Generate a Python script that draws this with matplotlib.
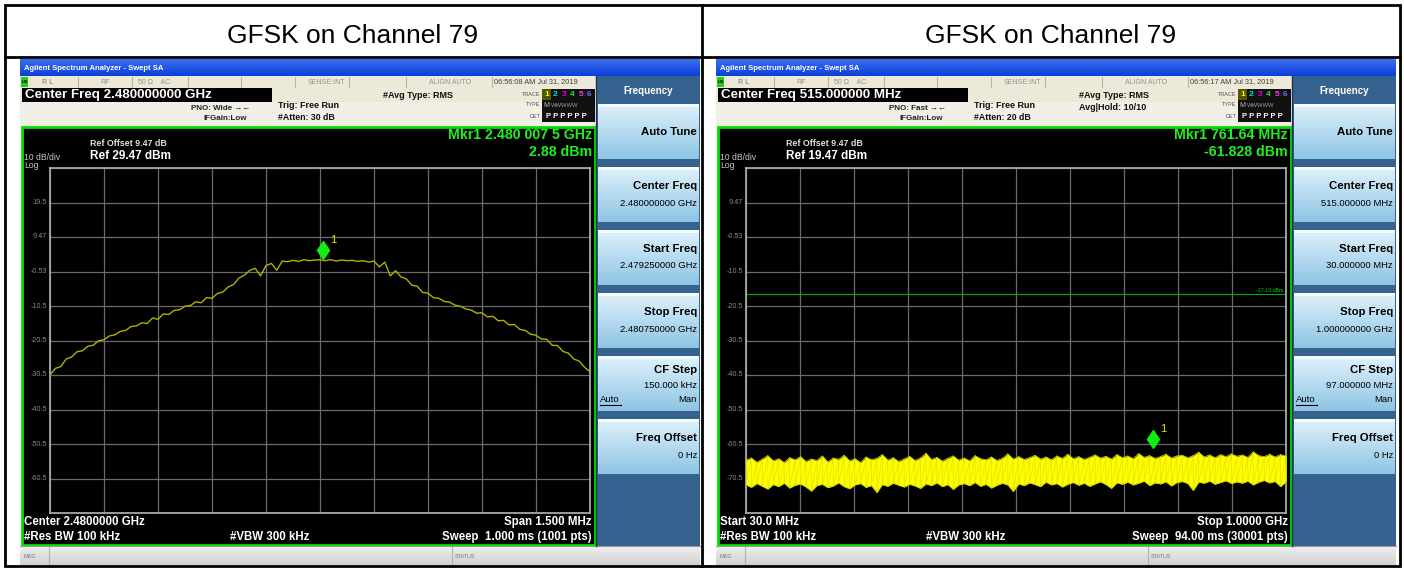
import numpy as np
import matplotlib
matplotlib.use("Agg")
import matplotlib.pyplot as plt
from matplotlib.patches import Rectangle
import matplotlib.transforms as mtransforms

plt.rcParams['font.family'] = ['Liberation Sans', 'DejaVu Sans']

W, H = 1404, 570

# ---------------- data ----------------
panel_titles = ["GFSK on Channel 79", "GFSK on Channel 79"]

# Left: in-band sweep, 2.479250 - 2.480750 GHz, readings every 15 kHz (offset from centre)
left_center_ghz = 2.48
left_span_khz = 1500
left_step_khz = 15
left_levels_dbm = [
    -30.5, -28.6, -28.1, -25.9, -25.3, -23.8, -23.5, -22.2, -21.9, -20.6,
    -20.3, -19.2, -18.9, -17.9, -17.6, -16.5, -16.3, -15.4, -15.6, -14.0,
    -14.4, -12.8, -13.0, -11.8, -11.6, -10.6, -10.4, -9.3, -9.6, -8.1,
    -8.3, -6.9, -6.5, -5.0, -4.3, -2.4, -1.6, -0.2, 0.4, -1.8,
    1.2, 1.8, -0.2, 2.5, 2.3, 2.7, 2.4, 2.9, 2.6, 2.8,
    2.88,
    2.6, 2.9, 2.5, 2.8, 2.6, 2.7, 2.4, 2.6, 2.2, 2.5,
    0.8, 2.2, -1.8, -0.3, -2.1, -2.7, -4.5, -4.8, -6.6, -6.8,
    -8.1, -8.3, -9.2, -9.4, -10.3, -10.6, -11.4, -11.7, -12.6, -12.5,
    -13.7, -13.5, -14.8, -14.7, -16.0, -15.9, -17.3, -17.6, -18.7, -19.0,
    -20.1, -20.2, -21.9, -22.0, -23.7, -24.2, -25.9, -26.5, -28.3, -29.6]
left_ref_dbm = 29.47
left_ytick_labels = ["19.5", "9.47", "-0.53", "-10.5", "-20.5", "-30.5", "-40.5", "-50.5", "-60.5"]
left_marker_khz, left_marker_dbm = 7.5, 2.88

# Right: spurious sweep 30 MHz - 1 GHz, noise band envelope (upper / lower), dBm
right_start_mhz, right_stop_mhz = 30.0, 1000.0
right_upper_dbm = [
    -65.2, -64.6, -65.8, -64.9, -63.9, -65.4, -64.8, -65.9, -64.5, -65.1,
    -64.2, -65.6, -64.9, -65.3, -64.0, -65.7, -64.6, -65.0, -63.8, -65.4,
    -64.8, -65.9, -64.3, -65.1, -64.7, -63.6, -65.2, -64.5, -65.6, -64.9,
    -64.1, -65.3, -64.6, -63.2, -65.0, -64.4, -65.5, -64.7, -64.0, -65.2,
    -64.6, -65.4, -63.9, -64.8, -65.1, -64.3, -65.3, -64.7, -63.4, -64.9,
    -64.2, -65.0, -64.5, -63.8, -64.9, -64.3, -65.1, -64.0, -64.7, -63.5,
    -64.8, -64.2, -65.0, -64.4, -63.7, -64.6, -64.1, -64.9, -63.6, -64.5,
    -64.0, -64.8, -63.3, -64.4, -63.9, -64.7, -64.2, -63.5, -64.6, -64.0,
    -63.8, -64.5, -63.9, -62.9, -64.3, -63.7, -64.5, -63.6, -64.2, -63.4,
    -64.1, -63.7, -64.4, -62.8, -63.9, -64.2, -63.5, -64.3, -63.6, -64.0]
right_lower_dbm = [
    -72.4, -73.1, -72.0, -72.8, -73.6, -72.3, -72.9, -71.9, -73.3, -72.5,
    -72.1, -73.0, -74.2, -72.6, -72.2, -73.2, -72.7, -71.8, -72.9, -73.5,
    -72.4, -72.0, -73.1, -72.6, -74.6, -72.3, -72.8, -71.9, -72.5, -73.0,
    -72.2, -72.7, -73.4, -72.1, -72.6, -71.8, -72.9, -72.3, -73.7, -72.4,
    -72.0, -72.6, -71.7, -72.8, -72.2, -73.3, -72.5, -71.9, -72.4, -74.3,
    -72.1, -72.6, -71.8, -72.3, -72.9, -71.6, -72.4, -72.0, -73.0, -72.2,
    -71.7, -72.5, -71.9, -72.8, -72.1, -71.5, -72.3, -73.4, -71.8, -72.2,
    -71.6, -72.4, -71.9, -71.3, -72.6, -71.8, -72.1, -71.5, -72.7, -71.7,
    -71.4, -72.0, -74.0, -71.6, -71.9, -71.3, -72.2, -71.7, -71.2, -72.0,
    -71.5, -71.9, -71.3, -72.4, -71.6, -71.1, -71.8, -71.4, -72.9, -71.5]
right_ref_dbm = 19.47
right_ytick_labels = ["9.47", "-0.53", "-10.5", "-20.5", "-30.5", "-40.5", "-50.5", "-60.5", "-70.5"]
right_marker_mhz, right_marker_dbm = 761.64, -61.828
right_limit_dbm = -17.13

screens = [
    dict(dx=0, time="06:56:08 AM Jul 31, 2019", cf="Center Freq 2.480000000 GHz",
         pno="PNO: Wide", atten="#Atten: 30 dB", avg=["#Avg Type: RMS"],
         mkr=["Mkr1 2.480 007 5 GHz", "2.88 dBm"], ref="Ref 29.47 dBm",
         bl1="Center 2.4800000 GHz", br1="Span 1.500 MHz",
         br2="Sweep  1.000 ms (1001 pts)",
         keys=[("Auto Tune", None), ("Center Freq", "2.480000000 GHz"),
               ("Start Freq", "2.479250000 GHz"), ("Stop Freq", "2.480750000 GHz"),
               ("CF Step", "150.000 kHz"), ("Freq Offset", "0 Hz")]),
    dict(dx=696, time="06:56:17 AM Jul 31, 2019", cf="Center Freq 515.000000 MHz",
         pno="PNO: Fast", atten="#Atten: 20 dB", avg=["#Avg Type: RMS", "Avg|Hold: 10/10"],
         mkr=["Mkr1 761.64 MHz", "-61.828 dBm"], ref="Ref 19.47 dBm",
         bl1="Start 30.0 MHz", br1="Stop 1.0000 GHz",
         br2="Sweep  94.00 ms (30001 pts)",
         keys=[("Auto Tune", None), ("Center Freq", "515.000000 MHz"),
               ("Start Freq", "30.000000 MHz"), ("Stop Freq", "1.000000000 GHz"),
               ("CF Step", "97.000000 MHz"), ("Freq Offset", "0 Hz")]),
]

# ---------------- figure ----------------
fig = plt.figure(figsize=(W / 100, H / 100), dpi=100)
fig.patch.set_facecolor("white")
bg = fig.add_axes([0, 0, 1, 1])
bg.set_xlim(0, W)
bg.set_ylim(H, 0)
bg.axis("off")


def rect(x0, y0, x1, y1, fc, ec="none", lw=0, z=1):
    bg.add_patch(Rectangle((x0, y0), x1 - x0, y1 - y0, facecolor=fc, edgecolor=ec, lw=lw, zorder=z))


def grad(x0, y0, x1, y1, ctop, cbot, z=1):
    c0 = np.array(matplotlib.colors.to_rgb(ctop))
    c1 = np.array(matplotlib.colors.to_rgb(cbot))
    t = np.linspace(0, 1, 32)[:, None, None]
    img = c0[None, None, :] * (1 - t) + c1[None, None, :] * t
    bg.imshow(img, extent=(x0, x1, y1, y0), origin="upper", aspect="auto", zorder=z, interpolation="bilinear")


def txt(x, y, s, size, color="black", weight="normal", ha="left", va="center", z=5, **kw):
    bg.text(x, y, s, fontsize=size, color=color, fontweight=weight, ha=ha, va=va, zorder=z, **kw)


def px_axes(x0, y0, x1, y1):
    return fig.add_axes([x0 / W, 1 - y1 / H, (x1 - x0) / W, (y1 - y0) / H])


# table
bg.add_patch(Rectangle((5, 5), 1395, 561, fill=False, edgecolor="black", lw=2, zorder=10))
bg.plot([5, 1400], [57, 57], color="black", lw=2, zorder=10)
bg.plot([702, 702], [5, 566], color="black", lw=2, zorder=10)
for i, t in enumerate(panel_titles):
    txt(353 + i * 698, 36, t, 19, ha="center")

data_axes = []
for s in screens:
    d = s["dx"]
    # title bar
    grad(20 + d, 59, 700 + d, 76, "#3a6ff2", "#0c3fd6")
    txt(24 + d, 68, "Agilent Spectrum Analyzer - Swept SA", 5.5, color="white", weight="bold")
    # status row
    rect(20 + d, 76, 597 + d, 88, "#ece9d8")
    rect(21 + d, 77, 28 + d, 87, "#22cc22", z=2)
    txt(22 + d, 82, "LXI", 3, color="black", weight="bold")
    for sx in [78, 132, 188, 241, 295, 349, 406, 492]:
        bg.plot([sx + d, sx + d], [77, 87], color="#b8b4a0", lw=0.8, zorder=2)
    txt(42 + d, 82, "R L", 5, color="#707070")
    txt(100 + d, 82, "RF", 5, color="#909090")
    txt(138 + d, 82, "50 \u03a9    AC", 5, color="#909090")
    txt(326 + d, 82, "SENSE:INT", 5, color="#909090", ha="center")
    txt(450 + d, 82, "ALIGN AUTO", 5, color="#909090", ha="center")
    txt(494 + d, 82, s["time"], 5.3, color="#404040")
    # centre freq row + settings strip
    rect(20 + d, 88, 597 + d, 127, "#ece9d8")
    rect(21 + d, 102, 597 + d, 126, "#f2f0e6")
    rect(22 + d, 88, 272 + d, 102, "black", z=2)
    txt(25 + d, 95, s["cf"], 9.6, color="white", weight="bold", z=3)
    txt(250 + d, 109, s["pno"] + " \u2192\u2190", 5.8, color="#222222", weight="bold", ha="right")
    txt(247 + d, 119, "IFGain:Low", 5.8, color="#222222", weight="bold", ha="right")
    txt(278 + d, 106, "Trig: Free Run", 6.5, color="#111111", weight="bold")
    txt(278 + d, 118, s["atten"], 6.3, color="#111111", weight="bold")
    for k, a in enumerate(s["avg"]):
        txt(383 + d, 95 + 12 * k, a, 6.5, color="#111111", weight="bold")
    # trace block
    txt(540 + d, 94, "TRACE", 4, color="#555555", ha="right")
    txt(540 + d, 105, "TYPE", 4, color="#555555", ha="right")
    txt(540 + d, 116, "DET", 4, color="#555555", ha="right")
    rect(542 + d, 89, 595 + d, 122, "#101010", z=2)
    rect(542 + d, 89, 551 + d, 100, "#555500", z=2)
    for j, (n, c) in enumerate(zip("123456", ["#ffff00", "#00e0e0", "#e000e0", "#30e030", "#ff40ff", "#6070ff"])):
        txt(546.5 + d + j * 8.6, 94.5, n, 6, color=c, weight="bold", ha="center", z=3)
    txt(543 + d, 105.5, "M", 5, color="#bbbbbb", z=3)
    txt(551 + d, 105.5, "WWWWW", 4.2, color="#9a9a9a", z=3)
    txt(546.5 + d, 116.5, "P P P P P P", 5.5, color="white", weight="bold", ha="left", z=3)

    # display area
    rect(22 + d, 127, 595 + d, 545, "black", ec="#00e000", lw=2, z=2)
    txt(90 + d, 143, "Ref Offset 9.47 dB", 6.4, color="#e0e0e0", weight="bold", z=3)
    txt(90 + d, 156, s["ref"], 8.5, color="white", weight="bold", z=3)
    txt(24 + d, 157, "10 dB/div", 6.2, color="#c8c8c8", z=3)
    txt(24 + d, 166, "Log", 6.2, color="#c8c8c8", z=3)
    txt(592 + d, 135, s["mkr"][0], 10.2, color="#22ee22", weight="bold", ha="right", z=3)
    txt(592 + d, 152, s["mkr"][1], 10.2, color="#22ee22", weight="bold", ha="right", z=3)
    txt(24 + d, 522, s["bl1"], 8.3, color="white", weight="bold", z=3)
    txt(24 + d, 537, "#Res BW 100 kHz", 8.3, color="white", weight="bold", z=3)
    txt(230 + d, 537, "#VBW 300 kHz", 8.3, color="white", weight="bold", z=3)
    txt(592 + d, 522, s["br1"], 8.3, color="white", weight="bold", ha="right", z=3)
    txt(592 + d, 537, s["br2"], 8.3, color="white", weight="bold", ha="right", z=3)

    # message bar
    grad(20 + d, 546, 700 + d, 566, "#f0f0f0", "#cfcfcf")
    bg.plot([20 + d, 700 + d], [546, 546], color="#9a9a9a", lw=0.8, zorder=2)
    bg.plot([49 + d, 49 + d], [547, 565], color="#b0b0b0", lw=0.8, zorder=2)
    bg.plot([452 + d, 452 + d], [547, 565], color="#b0b0b0", lw=0.8, zorder=2)
    txt(24 + d, 556, "MSG", 4, color="#777777")
    txt(455 + d, 556, "STATUS", 4, color="#777777")

    # softkey panel
    rect(596 + d, 76, 700 + d, 546, "#35628f")
    bg.plot([596 + d, 596 + d], [76, 546], color="#1d3550", lw=1, zorder=2)
    txt(648 + d, 91, "Frequency", 7, color="white", weight="bold", ha="center")
    for k, (name, val) in enumerate(s["keys"]):
        y0 = 104 + 63 * k
        grad(598 + d, y0, 699 + d, y0 + 55, "#dff1fb", "#8ec5e4", z=2)
        rect(598 + d, y0, 699 + d, y0 + 3, "#f4fbff", z=2)
        if val is None:
            txt(697 + d, y0 + 28, name, 8.2, weight="bold", ha="right", z=3)
        elif name == "CF Step":
            txt(697 + d, y0 + 14, name, 8.2, weight="bold", ha="right", z=3)
            txt(697 + d, y0 + 29, val, 6.8, ha="right", z=3)
            txt(697 + d, y0 + 43, "Man", 6.8, ha="right", z=3)
            txt(600 + d, y0 + 43, "Auto", 6.8, ha="left", z=3)
            bg.plot([600 + d, 621 + d], [y0 + 49, y0 + 49], color="black", lw=0.8, zorder=3)
        else:
            txt(697 + d, y0 + 19, name, 8.2, weight="bold", ha="right", z=3)
            txt(697 + d, y0 + 36, val, 6.8, ha="right", z=3)

    # graticule axes
    ax = px_axes(50 + d, 168, 590 + d, 513)
    ax.set_facecolor("black")
    ax.set_zorder(5)
    for sp in ax.spines.values():
        sp.set_color("#a8a8a8")
        sp.set_linewidth(1.3)
    ax.tick_params(length=0, labelbottom=False, labelleft=False)
    data_axes.append(ax)

# ---- left trace ----
axL = data_axes[0]
offs = np.arange(-left_span_khz / 2, left_span_khz / 2 + 1, left_step_khz)
axL.set_xlim(-left_span_khz / 2, left_span_khz / 2)
axL.set_ylim(left_ref_dbm - 100, left_ref_dbm)
axL.set_xticks(np.linspace(-left_span_khz / 2, left_span_khz / 2, 11))
axL.set_yticks([left_ref_dbm - 10 * k for k in range(11)])
axL.grid(True, color="#6a6a6a", lw=0.9)
axL.plot(offs, left_levels_dbm, color="#b0b000", lw=1.0, zorder=3)
tr = mtransforms.blended_transform_factory(axL.transAxes, axL.transData)
for k, lab in enumerate(left_ytick_labels):
    axL.text(-0.006, left_ref_dbm - 10 * (k + 1), lab, transform=tr, ha="right", va="center",
             fontsize=5.2, color="#8a8a8a", clip_on=False)
mt = mtransforms.offset_copy(axL.transData, fig=fig, x=0, y=10, units="dots")
axL.plot([left_marker_khz], [left_marker_dbm], marker="d", ms=9.5, color="#10ee10", transform=mt,
         clip_on=False, zorder=6)
mt2 = mtransforms.offset_copy(axL.transData, fig=fig, x=7, y=20, units="dots")
axL.text(left_marker_khz, left_marker_dbm, "1", transform=mt2, color="#e8e800", fontsize=8, clip_on=False,
         va="center", zorder=6)

# ---- right trace ----
axR = data_axes[1]
fr = np.linspace(right_start_mhz, right_stop_mhz, len(right_upper_dbm))
axR.set_xlim(right_start_mhz, right_stop_mhz)
axR.set_ylim(right_ref_dbm - 100, right_ref_dbm)
axR.set_xticks(np.linspace(right_start_mhz, right_stop_mhz, 11))
axR.set_yticks([right_ref_dbm - 10 * k for k in range(11)])
axR.grid(True, color="#6a6a6a", lw=0.9)
axR.fill_between(fr, right_lower_dbm, right_upper_dbm, color="#ffff00", lw=0, zorder=3)
zig_x = np.repeat(fr, 2)
zig_y = np.column_stack([right_upper_dbm, right_lower_dbm]).ravel()
axR.plot(zig_x, zig_y, color="#e6e600", lw=0.6, zorder=3)
axR.plot(fr, right_upper_dbm, color="#cccc00", lw=0.6, zorder=3)
axR.plot(fr, right_lower_dbm, color="#cccc00", lw=0.6, zorder=3)
axR.axhline(right_limit_dbm, color="#00b000", lw=0.8, zorder=2)
trR = mtransforms.blended_transform_factory(axR.transAxes, axR.transData)
axR.text(0.995, right_limit_dbm + 1.2, "%.2f dBm" % right_limit_dbm, transform=trR, ha="right", va="center",
         fontsize=3.8, color="#00d000")
for k, lab in enumerate(right_ytick_labels):
    axR.text(-0.006, right_ref_dbm - 10 * (k + 1), lab, transform=trR, ha="right", va="center",
             fontsize=5.2, color="#8a8a8a", clip_on=False)
mtR = mtransforms.offset_copy(axR.transData, fig=fig, x=0, y=9, units="dots")
axR.plot([right_marker_mhz], [right_marker_dbm], marker="d", ms=9.5, color="#10ee10", transform=mtR,
         clip_on=False, zorder=6)
mtR2 = mtransforms.offset_copy(axR.transData, fig=fig, x=7, y=19, units="dots")
axR.text(right_marker_mhz, right_marker_dbm, "1", transform=mtR2, color="#e8e800", fontsize=8,
         va="center", zorder=6)

bg.set_xlim(0, W)
bg.set_ylim(H, 0)
fig.savefig("out.png", dpi=100, facecolor="white")
